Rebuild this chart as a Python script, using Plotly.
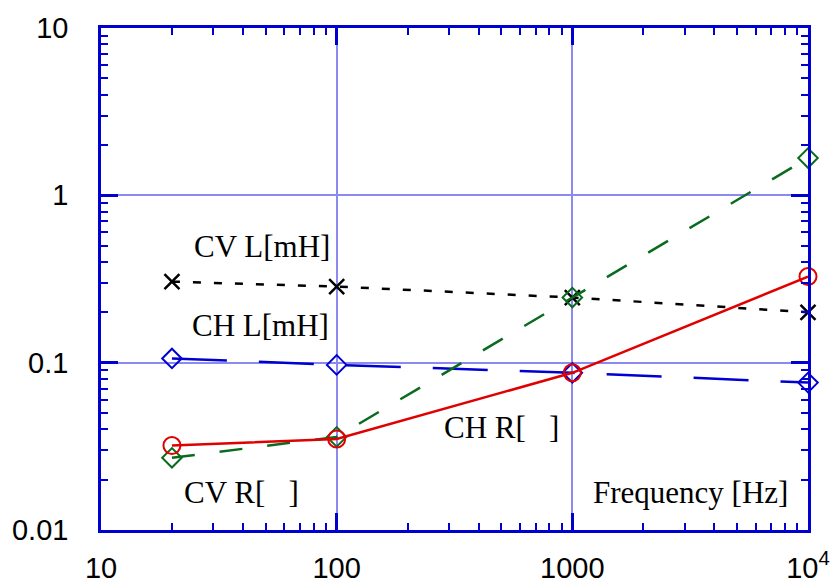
import plotly.graph_objects as go

freq = [20, 100, 1000, 10000]
cv_l = [0.305, 0.285, 0.245, 0.200]
ch_l = [0.106, 0.097, 0.087, 0.076]
ch_r = [0.032, 0.035, 0.087, 0.327]
cv_r = [0.027, 0.036, 0.245, 1.67]

x_tickvals = [10, 100, 1000, 10000]
x_ticktext = ["10", "100", "1000", "10<sup>4</sup>"]
y_tickvals = [0.01, 0.1, 1, 10]
y_ticktext = ["0.01", "0.1", "1", "10"]

AXIS = "#0000d0"
GRID = "#8a8af0"

x_minor = [m * d for d in (10, 100, 1000) for m in range(2, 10)]
y_minor = [m * d for d in (0.01, 0.1, 1) for m in range(2, 10)]

fig = go.Figure()
fig.add_trace(go.Scatter(x=freq, y=cv_l, mode="lines+markers", name="CV L", cliponaxis=False,
                         line=dict(color="black", width=2.5, dash="8px,13px"),
                         marker=dict(symbol="x-thin-open", size=15, color="black",
                                     line=dict(width=2.5, color="black"))))
fig.add_trace(go.Scatter(x=freq, y=ch_l, mode="lines+markers", name="CH L", cliponaxis=False,
                         line=dict(color="#0000d0", width=2.5, dash="55px,32px"),
                         marker=dict(symbol="diamond-open", size=15, color="#0000d0",
                                     line=dict(width=2))))
fig.add_trace(go.Scatter(x=freq, y=cv_r, mode="lines+markers", name="CV R", cliponaxis=False,
                         line=dict(color="#0a6b1e", width=2.5, dash="23px,25px"),
                         marker=dict(symbol="diamond-open", size=15, color="#0a6b1e",
                                     line=dict(width=2))))
fig.add_trace(go.Scatter(x=freq, y=ch_r, mode="lines+markers", name="CH R", cliponaxis=False,
                         line=dict(color="#e00000", width=2.5),
                         marker=dict(symbol="circle-open", size=17, color="#e00000",
                                     line=dict(width=2))))

axis_common = dict(
    showline=True, linecolor=AXIS, linewidth=2.5, mirror="ticks",
    ticks="inside", ticklen=17, tickwidth=2.5, tickcolor=AXIS,
    showgrid=True, gridcolor=GRID, gridwidth=2,
    zeroline=False, automargin=False,
    tickfont=dict(family="Liberation Sans, Arial", size=29, color="black"),
)

fig.update_xaxes(type="log", range=[1, 4], tickmode="array", tickvals=x_tickvals, ticktext=x_ticktext,
                 ticklabelstandoff=10,
                 minor=dict(ticks="inside", ticklen=7, tickwidth=2, tickcolor=AXIS, showgrid=False,
                            tickmode="array", tickvals=x_minor),
                 **axis_common)
fig.update_yaxes(type="log", range=[-2, 1], tickmode="array", tickvals=y_tickvals, ticktext=y_ticktext,
                 ticklabelstandoff=24,
                 minor=dict(ticks="inside", ticklen=7, tickwidth=2, tickcolor=AXIS, showgrid=False,
                            tickmode="array", tickvals=y_minor),
                 **axis_common)

W, H = 834, 586
L, R, T, B = 101, 26, 28, 56
pw, ph = W - L - R, H - T - B

def px2paper(xp, yp):
    return (xp - L) / pw, 1 - (yp - T) / ph

labels = [
    ("CV L[mH]", 262, 246),
    ("CH L[mH]", 260, 325),
    ("CV R[   ]", 241, 492),
    ("CH R[   ]", 501, 427),
    ("Frequency [Hz]", 690, 492),
]
for txt, xp, yp in labels:
    xx, yy = px2paper(xp, yp)
    fig.add_annotation(text=txt, x=xx, y=yy, xref="paper", yref="paper",
                       showarrow=False, xanchor="center", yanchor="middle",
                       font=dict(family="Liberation Serif, Times New Roman", size=31, color="black"))

fig.update_layout(
    width=W, height=H, showlegend=False,
    margin=dict(l=L, r=R, t=T, b=B, pad=0),
    paper_bgcolor="white", plot_bgcolor="white",
)

fig.write_html("out.html")
